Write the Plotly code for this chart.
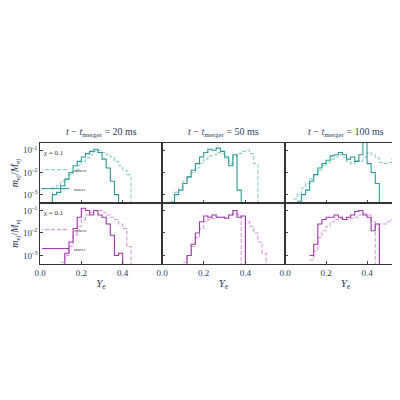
import numpy as np
import plotly.graph_objects as go

# log10(m_ej/M_ej) per Y_e bin (bin width 0.02); first value starts at the given edge
bin_w = 0.02
times = ["20", "50", "100"]

tracer_20_start = 0.04
tracer_20 = [-4, -3.0, -2.9, -2.6, -2.3, -2.0, -1.7, -1.5, -1.3, -1.15, -1.05, -0.95, -1.1, -1.4, -1.8, -2.4, -3.0, -4]
sphere_20_start = 0.04
sphere_20 = [-3.4, -2.7, -2.6, -2.4, -2.3, -2.1, -1.9, -1.7, -1.5, -1.35, -1.2, -1.05, -1.0, -1.1, -1.2, -1.3, -1.5, -1.7, -1.9, -2.1, -4]

tracer_50_start = 0.04
tracer_50 = [-4, -3.0, -2.8, -2.5, -2.2, -1.9, -1.6, -1.3, -1.1, -0.95, -1.0, -0.9, -1.05, -1.3, -1.7, -1.2, -2.8, -4]
sphere_50_start = 0.04
sphere_50 = [-3.3, -2.9, -2.7, -2.4, -2.2, -2.0, -1.8, -1.6, -1.4, -1.25, -1.2, -1.1, -1.15, -1.35, -1.6, -1.3, -1.15, -1.05, -1.0, -1.15, -1.6, -4]

tracer_100_start = 0.06
tracer_100 = [-3.3, -3.0, -2.8, -2.4, -2.1, -1.8, -1.6, -1.45, -1.25, -1.2, -1.1, -1.2, -1.4, -1.3, -1.5, -1.2, -0.5, -1.6, -2.0, -2.5, -4]
sphere_100_start = 0.04
sphere_100 = [-3.2, -3.0, -2.7, -2.5, -2.3, -2.1, -1.9, -1.7, -1.55, -1.4, -1.3, -1.2, -1.3, -1.5, -1.6, -1.45, -1.5, -1.3, -1.1, -1.2, -1.35, -1.55, -1.6, -1.55, -1.4, -1.3, -1.1]

tracer2_20_start = 0.10
tracer2_20 = [-4, -2.9, -2.4, -1.8, -1.3, -0.9, -1.0, -1.2, -1.0, -1.2, -1.3, -1.6, -2.1, -3.0, -2.9, -4]
sphere2_20_start = 0.10
sphere2_20 = [-3.3, -3.0, -2.6, -2.1, -1.7, -1.4, -1.2, -1.1, -1.0, -1.0, -1.1, -1.2, -1.3, -1.4, -1.6, -1.8, -2.6, -4]

tracer2_50_start = 0.10
tracer2_50 = [-4, -3.0, -2.5, -2.0, -1.5, -1.25, -1.3, -1.2, -1.3, -1.3, -1.35, -1.2, -1.0, -1.3, -1.25, -4]
sphere2_50_start = 0.10
sphere2_50 = [-3.3, -3.0, -2.6, -2.2, -1.8, -1.5, -1.4, -1.35, -1.3, -1.3, -1.3, -1.2, -1.15, -1.2, -4, -1.5, -1.7, -2.0, -2.4, -2.9, -4]

tracer2_100_start = 0.12
tracer2_100 = [-3.0, -2.5, -1.6, -1.4, -1.3, -1.3, -1.2, -1.3, -1.4, -1.3, -1.2, -1.05, -1.0, -1.2, -1.3, -1.9, -1.6, -4]
sphere2_100_start = 0.12
sphere2_100 = [-3.2, -2.8, -2.2, -1.9, -1.7, -1.5, -1.4, -1.35, -1.4, -1.4, -1.35, -1.3, -1.2, -1.15, -1.2, -1.5, -4, -1.6, -1.6, -1.5, -1.4, -1.2, -0.9]

rows = [
    [(tracer_20_start, tracer_20, sphere_20_start, sphere_20),
     (tracer_50_start, tracer_50, sphere_50_start, sphere_50),
     (tracer_100_start, tracer_100, sphere_100_start, sphere_100)],
    [(tracer2_20_start, tracer2_20, sphere2_20_start, sphere2_20),
     (tracer2_50_start, tracer2_50, sphere2_50_start, sphere2_50),
     (tracer2_100_start, tracer2_100, sphere2_100_start, sphere2_100)],
]
colors = [("#2b9a98", "#8fd0cc"), ("#a235ab", "#d79ad9")]


def step_xy(start, vals):
    edges = start + bin_w * np.arange(len(vals) + 1)
    y = list(10.0 ** np.array(vals))
    return edges, y + [y[-1]]


FONT = "Liberation Serif"
fig = go.Figure()
xdom = [(0.08, 0.385), (0.385, 0.6925), (0.6925, 0.995)]
ydom = [(0.5125, 0.6625), (0.36, 0.5125)]

for r in range(2):
    for c in range(3):
        k = r * 3 + c + 1
        xa, ya = ("x" if k == 1 else f"x{k}"), ("y" if k == 1 else f"y{k}")
        ts, tv, ss, sv = rows[r][c]
        dark, light = colors[r]
        legend = ("legend" if r == 0 else "legend2") if c == 0 else None
        x, y = step_xy(ss, sv)
        fig.add_trace(go.Scatter(x=x, y=y, mode="lines", line_shape="hv",
                                 line=dict(color=light, width=1.1, dash="4px,2px"),
                                 name="sphere", xaxis=xa, yaxis=ya,
                                 showlegend=legend is not None, legend=legend or "legend"))
        x, y = step_xy(ts, tv)
        fig.add_trace(go.Scatter(x=x, y=y, mode="lines", line_shape="hv",
                                 line=dict(color=dark, width=1.1),
                                 name="tracer", xaxis=xa, yaxis=ya,
                                 showlegend=legend is not None, legend=legend or "legend"))
        axis_common = dict(showline=True, linecolor="#333", linewidth=0.8, mirror=True,
                           ticks="inside", ticklen=3, showgrid=False, zeroline=False,
                           automargin=False, tickfont=dict(size=9, family=FONT))
        fig.layout[f"xaxis{k if k > 1 else ''}"] = dict(
            axis_common, domain=xdom[c], anchor=ya, range=[0, 0.59],
            tickvals=[0.0, 0.2, 0.4], ticktext=["0.0", "0.2", "0.4"],
            showticklabels=(r == 1),
            title=dict(text="<i>Y</i><sub>e</sub>", font=dict(size=11, family=FONT), standoff=2) if r == 1 else None)
        fig.layout[f"yaxis{k if k > 1 else ''}"] = dict(
            axis_common, domain=ydom[r], anchor=xa, type="log", range=[-3.38, -0.67],
            tickvals=[1e-3, 1e-2, 1e-1], ticktext=["10<sup>-3</sup>", "10<sup>-2</sup>", "10<sup>-1</sup>"],
            showticklabels=(c == 0),
            title=dict(text="<i>m</i><sub>ej</sub>/<i>M</i><sub>ej</sub>", font=dict(size=10, family=FONT), standoff=2) if c == 0 else None)

for c, t in enumerate(times):
    fig.add_annotation(text=f"<i>t</i> − <i>t</i><sub>merger</sub> = {t} ms", xref="paper", yref="paper",
                       x=sum(xdom[c]) / 2, y=0.668, xanchor="center", yanchor="bottom",
                       showarrow=False, font=dict(size=10, family=FONT))

leg = dict(bgcolor="rgba(0,0,0,0)", font=dict(size=5, family=FONT, color="#333"),
           title=dict(text="χ = 0.1", font=dict(size=7, family=FONT)),
           xanchor="left", yanchor="top", tracegroupgap=0, itemwidth=30, indentation=-8)
fig.update_layout(
    width=400, height=400, margin=dict(l=0, r=0, t=0, b=0, autoexpand=False),
    paper_bgcolor="white", plot_bgcolor="white",
    legend=dict(leg, x=0.085, y=0.655),
    legend2=dict(leg, x=0.085, y=0.505),
)
fig.write_html("out.html")
